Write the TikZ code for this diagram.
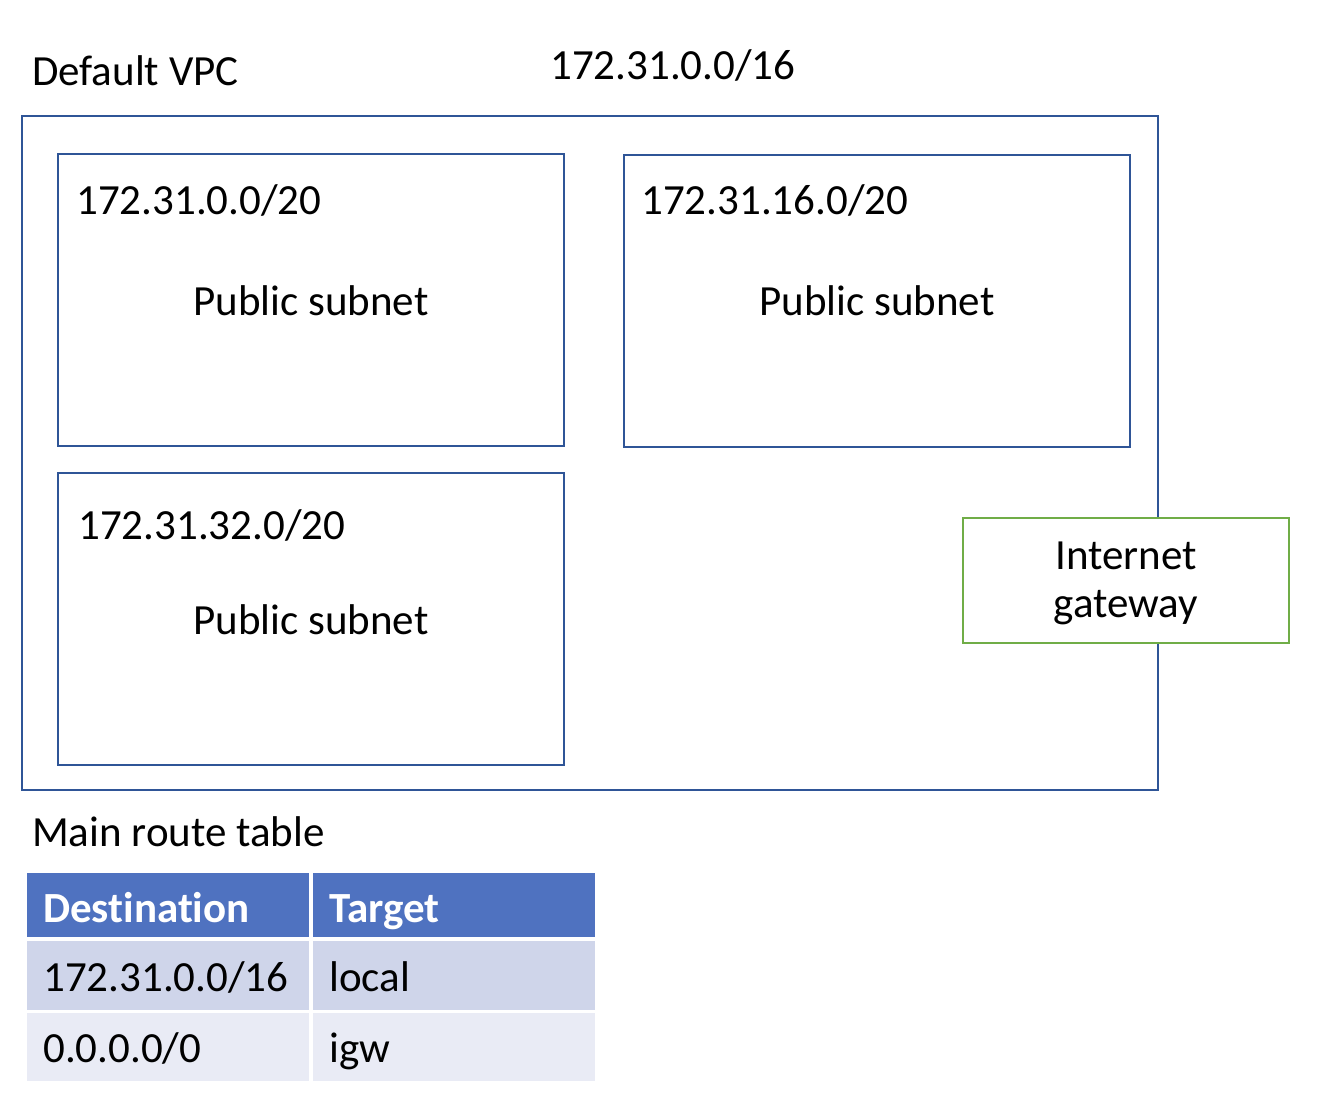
\documentclass[tikz,border=0pt]{standalone}
\usepackage{fontspec}
\setmainfont{Carlito}[Ligatures=NoCommon]
\definecolor{vpcblue}{HTML}{2F5597}
\definecolor{igwgreen}{HTML}{70AD47}
\definecolor{hdrblue}{HTML}{4F72C0}
\definecolor{rowa}{HTML}{CFD5EA}
\definecolor{rowb}{HTML}{E9EBF5}
\begin{document}
\begin{tikzpicture}[x=1pt,y=-1pt,
  txt/.style={inner sep=0pt,anchor=base west,font=\fontsize{43}{52}\selectfont},
  ctxt/.style={inner sep=0pt,anchor=base,font=\fontsize{43}{52}\selectfont},
  boxline/.style={draw=vpcblue,line width=2pt},
  hdr/.style={inner sep=0pt,anchor=base west,text=white,font=\fontsize{43}{52}\selectfont\bfseries}]
\useasboundingbox (0,0) rectangle (1318,1104);
% VPC
\draw[boxline] (22,116) rectangle (1158,790);
\node[txt] (vpclabel) at (32,85) {Default VPC};
\node[txt] (vpccidr) at (550,79) {172.31.0.0/16};
% subnets
\draw[boxline] (58,154) rectangle (564,446);
\node[txt] (s1cidr) at (76,214) {172.31.0.0/20};
\node[ctxt] (s1name) at (311,315) {Public subnet};
\draw[boxline] (624,155) rectangle (1130,447);
\node[txt] (s2cidr) at (641,214) {172.31.16.0/20};
\node[ctxt] (s2name) at (877,315) {Public subnet};
\draw[boxline] (58,473) rectangle (564,765);
\node[txt] (s3cidr) at (78,539) {172.31.32.0/20};
\node[ctxt] (s3name) at (311,634) {Public subnet};
% internet gateway
\draw[draw=igwgreen,line width=2pt,fill=white] (963,518) rectangle (1289,643);
\node[ctxt] (igw1) at (1126,569) {Internet};
\node[ctxt] (igw2) at (1126,617) {gateway};
% route table
\node[txt] (rtlabel) at (32,846) {Main route table};
\fill[hdrblue] (27,873) rectangle (309,937);
\fill[hdrblue] (313,873) rectangle (595,937);
\fill[rowa] (27,941) rectangle (309,1010);
\fill[rowa] (313,941) rectangle (595,1010);
\fill[rowb] (27,1013) rectangle (309,1081);
\fill[rowb] (313,1013) rectangle (595,1081);
\node[hdr] (h1) at (43,922) {Destination};
\node[hdr] (h2) at (329,922) {Target};
\node[txt] (r1a) at (43,991) {172.31.0.0/16};
\node[txt] (r1b) at (329,991) {local};
\node[txt] (r2a) at (43,1062) {0.0.0.0/0};
\node[txt] (r2b) at (329,1062) {igw};
\end{tikzpicture}
\end{document}
